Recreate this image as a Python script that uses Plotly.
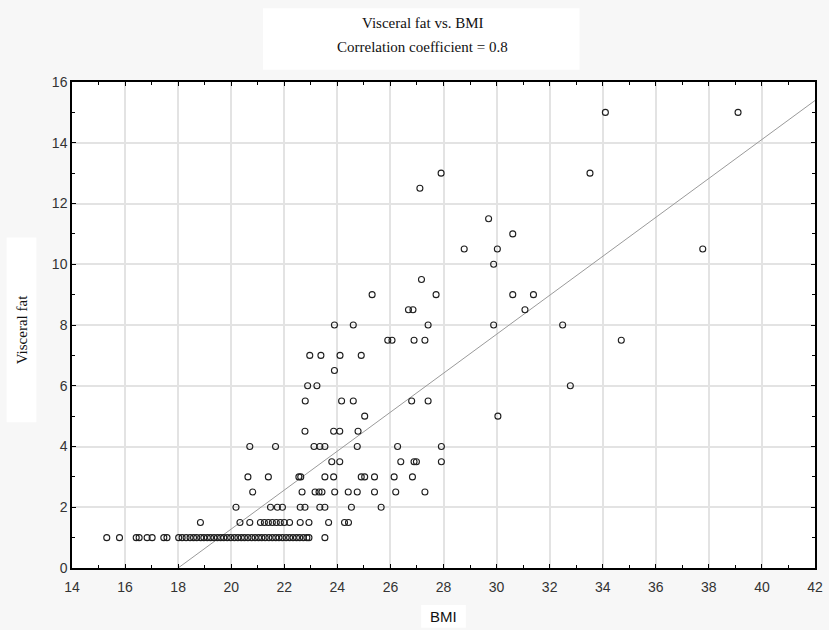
import plotly.graph_objects as go

# ---- data ----
vf_15 = [34.10, 39.10]
vf_13 = [27.91, 33.52]
vf_12_5 = [27.11]
vf_11_5 = [29.70]
vf_11 = [30.61]
vf_10_5 = [28.78, 30.03, 37.77]
vf_10 = [29.89]
vf_9_5 = [27.17]
vf_9 = [25.31, 27.72, 30.61, 31.39]
vf_8_5 = [26.68, 26.85, 31.07]
vf_8 = [23.89, 24.60, 27.42, 29.89, 32.49]
vf_7_5 = [25.90, 26.06, 26.89, 27.30, 34.70]
vf_7 = [22.96, 23.38, 24.10, 24.90]
vf_6_5 = [23.89]
vf_6 = [22.88, 23.23, 32.78]
vf_5_5 = [22.79, 24.16, 24.60, 26.80, 27.42]
vf_5 = [25.03, 30.05]
vf_4_5 = [22.78, 23.86, 24.09, 24.78]
vf_4 = [20.70, 21.67, 23.12, 23.34, 23.53, 24.75, 26.27, 27.92]
vf_3_5 = [23.79, 24.09, 26.39, 26.89, 26.98, 27.92]
vf_3 = [20.63, 21.40, 22.55, 22.62, 23.53, 23.86, 24.90, 25.03, 25.40, 26.14, 26.83]
vf_2_5 = [20.81, 22.67, 23.16, 23.31, 23.42, 23.90, 24.41, 24.75, 25.40, 26.20, 27.30]
vf_2 = [20.18, 21.48, 21.74, 21.93, 22.60, 22.78, 23.34, 23.53, 24.53, 25.65]
vf_1_5 = [18.84, 20.33, 20.70, 21.10, 21.25, 21.40, 21.55, 21.70, 21.85, 22.00,
          22.20, 22.60, 22.93, 23.67, 24.27, 24.42]
vf_1 = [15.31, 15.79, 16.42, 16.53, 16.83, 17.02, 17.46, 17.58, 18.02, 18.15,
        18.30, 18.45, 18.58, 18.70, 18.85, 18.97, 19.10, 19.22, 19.35, 19.48,
        19.60, 19.72, 19.85, 19.98, 20.12, 20.25, 20.38, 20.50, 20.63, 20.77,
        20.90, 21.03, 21.15, 21.28, 21.42, 21.55, 21.68, 21.80, 21.93, 22.07,
        22.20, 22.33, 22.46, 22.58, 22.72, 22.85, 22.93, 23.53]

groups = [
    (15, vf_15), (13, vf_13), (12.5, vf_12_5), (11.5, vf_11_5), (11, vf_11),
    (10.5, vf_10_5), (10, vf_10), (9.5, vf_9_5), (9, vf_9), (8.5, vf_8_5),
    (8, vf_8), (7.5, vf_7_5), (7, vf_7), (6.5, vf_6_5), (6, vf_6),
    (5.5, vf_5_5), (5, vf_5), (4.5, vf_4_5), (4, vf_4), (3.5, vf_3_5),
    (3, vf_3), (2.5, vf_2_5), (2, vf_2), (1.5, vf_1_5), (1, vf_1),
]

# regression line
fit_bmi = [18.0, 42.0]
fit_vf = [0.0, 15.39]

x_ticks = [14, 16, 18, 20, 22, 24, 26, 28, 30, 32, 34, 36, 38, 40, 42]
y_ticks = [0, 2, 4, 6, 8, 10, 12, 14, 16]

bmi = []
vfat = []
for v, xs in groups:
    for xv in xs:
        bmi.append(xv)
        vfat.append(v)

fig = go.Figure()
fig.add_trace(go.Scatter(
    x=fit_bmi, y=fit_vf, mode="lines",
    line=dict(color="#9a9a9a", width=1), hoverinfo="skip", showlegend=False))
fig.add_trace(go.Scatter(
    x=bmi, y=vfat, mode="markers",
    marker=dict(symbol="circle-open", size=6, color="#1e1e1e",
                line=dict(width=1.1, color="#1e1e1e")),
    showlegend=False))

axis_common = dict(
    showgrid=True, gridcolor="#e3e3e3", gridwidth=1.5,
    zeroline=False, showline=True, linecolor="#000", linewidth=1.5, mirror="ticks",
    ticks="inside", ticklen=4, tickcolor="#000", tickwidth=1,
    tickfont=dict(family="Liberation Sans Narrow, Liberation Sans, Arial", size=14, color="#333"),
    minor=dict(ticks="inside", ticklen=3, tickcolor="#000", showgrid=False),
)

fig.update_xaxes(range=[14, 42], tickvals=x_ticks, ticktext=[str(t) for t in x_ticks],
                 minor_dtick=1, ticklabelstandoff=5, **axis_common)
fig.update_yaxes(range=[0, 16], tickvals=y_ticks, ticktext=[str(t) for t in y_ticks],
                 minor_dtick=1, **axis_common)

fig.update_layout(
    width=829, height=630,
    margin=dict(l=72, r=6, t=82, b=62),
    paper_bgcolor="#f7f7f7", plot_bgcolor="#ffffff",
    shapes=[
        dict(type="rect", xref="paper", yref="paper", x0=0.257, x1=0.683,
             y0=1.025, y1=1.152, fillcolor="#ffffff", line=dict(width=0), layer="below"),
        dict(type="rect", xref="paper", yref="paper", x0=-0.088, x1=-0.048,
             y0=0.30, y1=0.68, fillcolor="#ffffff", line=dict(width=0), layer="below"),
        dict(type="rect", xref="paper", yref="paper", x0=0.47, x1=0.53,
             y0=-0.076, y1=-0.123, fillcolor="#ffffff", line=dict(width=0), layer="below"),
    ],
    annotations=[
        dict(text="Visceral fat vs. BMI", xref="paper", yref="paper", x=0.472, y=1.122,
             showarrow=False, xanchor="center", yanchor="middle",
             font=dict(family="Liberation Serif, Times New Roman", size=15, color="#111")),
        dict(text="Correlation coefficient = 0.8", xref="paper", yref="paper", x=0.472, y=1.072,
             showarrow=False, xanchor="center", yanchor="middle",
             font=dict(family="Liberation Serif, Times New Roman", size=15, color="#111")),
        dict(text="Visceral fat", xref="paper", yref="paper", x=-0.068, y=0.49,
             showarrow=False, textangle=-90, xanchor="center", yanchor="middle",
             font=dict(family="Liberation Serif, Times New Roman", size=15, color="#111")),
        dict(text="BMI", xref="paper", yref="paper", x=0.5, y=-0.100,
             showarrow=False, xanchor="center", yanchor="middle",
             font=dict(family="Liberation Sans Narrow, Liberation Sans, Arial", size=15, color="#111")),
    ],
)

fig.write_html("out.html")
